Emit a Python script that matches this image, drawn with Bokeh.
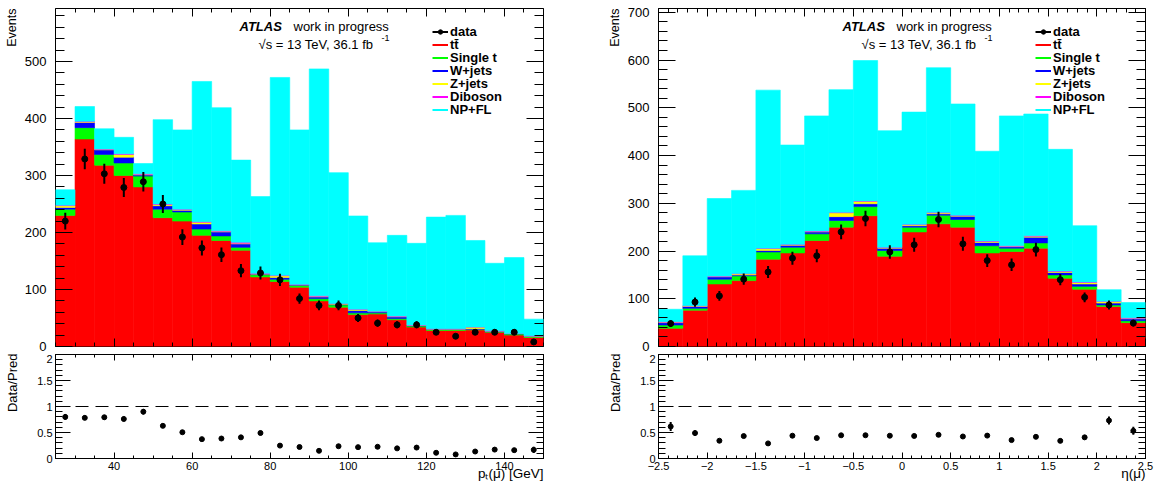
import numpy as np
from math import pi
from bokeh.plotting import figure
from bokeh.layouts import row, column
from bokeh.models import FixedTicker, LinearAxis, Range1d, Label, Legend, LegendItem, Span, Title
from bokeh.embed import file_html
from bokeh.resources import INLINE

FONT = "Liberation Sans"

process_names = ["tt\u0304", "Single t", "W+jets", "Z+jets", "Diboson", "NP+FL"]
process_colors = ["#ff0000", "#00ff00", "#0000ff", "#ffff00", "#ff00ff", "#00ffff"]

# ---------------- pT(mu) panel ----------------
pt_edges = [25, 30, 35, 40, 45, 50, 55, 60, 65, 70, 75, 80, 85, 90, 95, 100,
            105, 110, 115, 120, 125, 130, 135, 140, 145, 150]
pt_ttbar = [230, 364, 318, 300, 280, 226, 220, 195, 186, 169, 122, 114, 104, 80, 69,
            56, 57, 47, 34, 28, 28, 29, 25, 20, 16]
pt_single_t = [11, 20, 19, 22, 19, 15, 16, 11, 8, 5, 4, 4, 3, 4, 4, 3, 2, 2, 2, 2, 2, 1, 1, 2, 2]
pt_wjets = [3, 9, 8, 10, 2, 6, 3, 9, 7, 6, 1, 3, 1, 3, 1, 4, 2, 3, 1, 0.5, 0.5, 1, 1, 0.5, 0.3]
pt_zjets = [3, 1, 1, 5, 1, 2, 1, 3, 1, 1, 0.5, 3, 0.5, 1, 1, 2, 0.5, 1, 0.5, 0.3, 0.3, 3, 0.3, 0.3, 0.2]
pt_diboson = [1, 1, 0.5, 1, 1, 1, 1, 1, 1, 2, 1, 1, 0.5, 1, 0.5, 0.5, 0.5, 0.5, 0.3, 0.2, 0.2,
              0.3, 0.2, 0.2, 0.2]
pt_np_fl = [27, 26, 35.5, 29, 18, 148, 139, 246, 216, 144, 134.5, 347, 271, 398, 229.5, 163.5,
            120, 141.5, 143.2, 196, 199, 151.7, 118.5, 133, 29.3]
pt_data = [220, 329, 303, 279, 289, 250, 192, 173, 161, 133, 129, 117, 84, 72, 72, 50, 41, 38,
           38, 25, 18, 25, 25, 25, 8]
pt_xticks = [40, 60, 80, 100, 120, 140]
pt_xtick_labels = ["40", "60", "80", "100", "120", "140"]
pt_yticks = [0, 100, 200, 300, 400, 500]
pt_xtitle = "p\u209c(\u03bc) [GeV]"

# ---------------- eta(mu) panel ----------------
eta_edges = [-2.5, -2.25, -2.0, -1.75, -1.5, -1.25, -1.0, -0.75, -0.5, -0.25, 0.0,
             0.25, 0.5, 0.75, 1.0, 1.25, 1.5, 1.75, 2.0, 2.25, 2.5]
eta_ttbar = [38, 76, 131, 138, 183, 196, 222, 250, 274, 189, 240, 257, 250, 196, 199, 206, 143, 120, 84, 50]
eta_single_t = [7, 4, 10, 10, 15, 12, 14, 14, 19, 12, 10, 18, 16, 15, 7, 11, 7, 6, 3, 4]
eta_wjets = [5, 4, 5, 2, 3, 4, 4, 8, 6, 5, 3, 3, 7, 7, 3, 12, 5, 5, 4, 4]
eta_zjets = [1, 1, 1, 2, 4, 1, 1, 8, 5, 1, 2, 2, 1, 2, 1, 2, 2, 3, 3, 1]
eta_diboson = [1, 0.5, 0.5, 1, 1, 1, 1, 1, 1, 1, 1, 1, 1, 1, 1, 1, 1, 1, 1, 1]
eta_np_fl = [26, 104.5, 162.5, 174, 331, 208, 241, 257, 294, 244, 235, 303, 233, 188, 272, 255,
             255, 118, 24, 32]
eta_data = [48, 93, 106, 141, 156, 185, 190, 240, 268, 198, 213, 266, 215, 180, 171, 203, 140, 103, 87, 49]
eta_xticks = [-2.5, -2.0, -1.5, -1.0, -0.5, 0.0, 0.5, 1.0, 1.5, 2.0, 2.5]
eta_xtick_labels = ["\u22122.5", "\u22122", "\u22121.5", "\u22121", "\u22120.5", "0", "0.5", "1",
                    "1.5", "2", "2.5"]
eta_yticks = [0, 100, 200, 300, 400, 500, 600, 700]
eta_xtitle = "\u03b7(\u03bc)"

ratio_yticks = [0, 0.5, 1.0, 1.5, 2.0]
ratio_ytick_labels = ["0", "0.5", "1", "1.5", "2"]

TOTAL_H = 486
MAIN_TOP, MAIN_H, MAIN_BOT = 8, 338, 8
RATIO_H, RATIO_BOT = 104, 28


def style_axis(ax, major, minor, tin, tmin, labels=True, size="13px", standoff=5, overrides=None):
    ax.ticker = FixedTicker(ticks=list(major), minor_ticks=list(minor))
    ax.major_tick_in = int(tin)
    ax.major_tick_out = 0
    ax.minor_tick_in = int(tmin)
    ax.minor_tick_out = 0
    ax.axis_line_color = None
    ax.major_tick_line_color = "black"
    ax.minor_tick_line_color = "black"
    if labels:
        ax.major_label_text_font = FONT
        ax.major_label_text_font_size = size
        ax.major_label_text_color = "black"
        ax.major_label_standoff = standoff
        if overrides:
            ax.major_label_overrides = overrides
    else:
        ax.major_label_text_font_size = "0px"
        ax.major_label_standoff = 0
        ax.major_label_overrides = {t: "" for t in major}


def label(p, x, y, text, dx, dy, size="13px", style="normal"):
    p.add_layout(Label(x=x, y=y, x_offset=dx, y_offset=dy, text=text, text_font=FONT,
                       text_font_size=size, text_font_style=style, text_align="left",
                       text_baseline="alphabetic", text_color="black"))


def title_strip(width, x_center):
    """Narrow text-only figure (pixel coordinates) holding the rotated y titles."""
    s = figure(width=width, height=TOTAL_H, x_range=Range1d(0, width), y_range=Range1d(TOTAL_H, 0),
               min_border=0, x_axis_location=None, y_axis_location=None, outline_line_color=None,
               toolbar_location=None, output_backend="svg", background_fill_color="white",
               border_fill_color="white")
    s.xgrid.grid_line_color = None
    s.ygrid.grid_line_color = None
    for text, top, size in [("Events", MAIN_TOP, "12.5px"),
                            ("Data/Pred", MAIN_TOP + MAIN_H + MAIN_BOT - 1, "13px")]:
        s.add_layout(Label(x=x_center, y=top, text=text, angle=pi / 2, text_align="right",
                           text_baseline="middle", text_font=FONT, text_font_size=size,
                           text_color="black"))
    return s


def make_pair(edges, comps, data, ymax, yticks, xticks, xminor, xlabels, xtitle, bl, br, fw):
    edges = np.array(edges, float)
    left, right = edges[:-1], edges[1:]
    centers = 0.5 * (left + right)
    x0, x1 = edges[0], edges[-1]

    p = figure(frame_width=fw, frame_height=MAIN_H, x_range=Range1d(x0, x1), y_range=Range1d(0, ymax),
               min_border_left=bl, min_border_right=br, min_border_top=MAIN_TOP, min_border_bottom=MAIN_BOT,
               output_backend="svg", toolbar_location=None, background_fill_color="white",
               border_fill_color="white", outline_line_color="black", outline_line_width=1)
    p.grid.visible = False

    bottom = np.zeros(len(left))
    for vals, col in zip(comps, process_colors):
        top = bottom + np.array(vals, float)
        p.quad(left=left, right=right, bottom=bottom, top=top, fill_color=col,
               line_color=col, line_width=0.6)
        bottom = top
    total = bottom

    d = np.array(data, float)
    err = np.sqrt(d)
    p.segment(x0=centers, y0=d - err, x1=centers, y1=d + err, line_color="black", line_width=2)
    p.scatter(x=centers, y=d, size=6, color="black")

    yminor = np.arange(0, ymax + 1e-9, 20)
    style_axis(p.xaxis[0], xticks, xminor, 8, 4, labels=False)
    style_axis(p.yaxis[0], yticks, yminor, 17, 9, labels=True, size="13px", standoff=9,
               overrides={t: str(t) for t in yticks})
    ax_top = LinearAxis()
    style_axis(ax_top, xticks, xminor, 8, 4, labels=False)
    p.add_layout(ax_top, "above")
    ax_right = LinearAxis()
    style_axis(ax_right, yticks, yminor, 17, 9, labels=False)
    p.add_layout(ax_right, "right")

    # texts
    label(p, x0, ymax, "ATLAS", 184, -18, style="bold italic")
    label(p, x0, ymax, "work in progress", 238, -18)
    label(p, x0, ymax, "\u221as = 13 TeV, 36.1 fb", 203, -36)
    label(p, x0, ymax, "-1", 326, -29, size="9px")

    # legend: one entry per Legend so the row pitch matches the reference
    entries = [("data", "black")] + list(zip(process_names, process_colors))
    for i, (name, col) in enumerate(entries):
        cy = 23.7 + 12.9 * i
        rl = p.line(x=[np.nan], y=[np.nan], line_color=col, line_width=2)
        rends = [rl]
        if name == "data":
            rends.append(p.scatter(x=[np.nan], y=[np.nan], size=6, color="black"))
        leg = Legend(items=[LegendItem(label=name, renderers=rends)],
                     location=(377.0, float(MAIN_H - cy - 7.5)), orientation="vertical",
                     background_fill_alpha=0, border_line_alpha=0, padding=0, margin=0, spacing=0,
                     label_height=11, glyph_height=11, glyph_width=16, label_standoff=2,
                     label_text_font=FONT, label_text_font_size="13px", label_text_font_style="bold",
                     label_text_color="black")
        p.add_layout(leg, "center")

    # ratio
    r = figure(frame_width=fw, frame_height=RATIO_H, x_range=p.x_range, y_range=Range1d(0, 2),
               min_border_left=bl, min_border_right=br, min_border_top=0, min_border_bottom=RATIO_BOT,
               output_backend="svg", toolbar_location=None, background_fill_color="white",
               border_fill_color="white", outline_line_color="black", outline_line_width=1)
    r.grid.visible = False
    ratio = d / total
    rerr = err / total
    r.add_layout(Span(location=1, dimension="width", line_color="black", line_width=1, line_dash="13 7"))
    r.segment(x0=centers, y0=ratio - rerr, x1=centers, y1=ratio + rerr, line_color="black", line_width=2)
    r.scatter(x=centers, y=ratio, size=5, color="black")

    rminor = np.arange(0, 2.0 + 1e-9, 0.1)
    style_axis(r.xaxis[0], xticks, xminor, 6, 3, labels=True, size="11px", standoff=3,
               overrides=dict(zip(xticks, xlabels)))
    style_axis(r.yaxis[0], ratio_yticks, rminor, 15, 7, labels=True, size="11px", standoff=3,
               overrides=dict(zip(ratio_yticks, ratio_ytick_labels)))
    r.add_layout(Title(text=xtitle, align="right", vertical_align="top", standoff=-14, offset=0,
                       text_font=FONT, text_font_size="13.5px", text_font_style="normal",
                       text_color="black"), "below")
    rt = LinearAxis()
    style_axis(rt, xticks, xminor, 6, 3, labels=False)
    r.add_layout(rt, "above")
    rr = LinearAxis()
    style_axis(rr, ratio_yticks, rminor, 15, 7, labels=False)
    r.add_layout(rr, "right")
    return p, r


pt_comps = [pt_ttbar, pt_single_t, pt_wjets, pt_zjets, pt_diboson, pt_np_fl]
eta_comps = [eta_ttbar, eta_single_t, eta_wjets, eta_zjets, eta_diboson, eta_np_fl]

pt_xminor = pt_edges
eta_xminor = list(np.round(np.arange(-2.5, 2.5001, 0.1), 3))

p1, r1 = make_pair(pt_edges, pt_comps, pt_data, 593, pt_yticks, pt_xticks, pt_xminor,
                   pt_xtick_labels, pt_xtitle, 36, 63, 488)
p2, r2 = make_pair(eta_edges, eta_comps, eta_data, 708, eta_yticks, eta_xticks, eta_xminor,
                   eta_xtick_labels, eta_xtitle, 36, 10, 487)

sL = title_strip(19, 11.7)
sR = title_strip(16, 8.6)

layout = row(sL, column(p1, r1), sR, column(p2, r2))
open("out.html", "w").write(file_html(layout, INLINE))
